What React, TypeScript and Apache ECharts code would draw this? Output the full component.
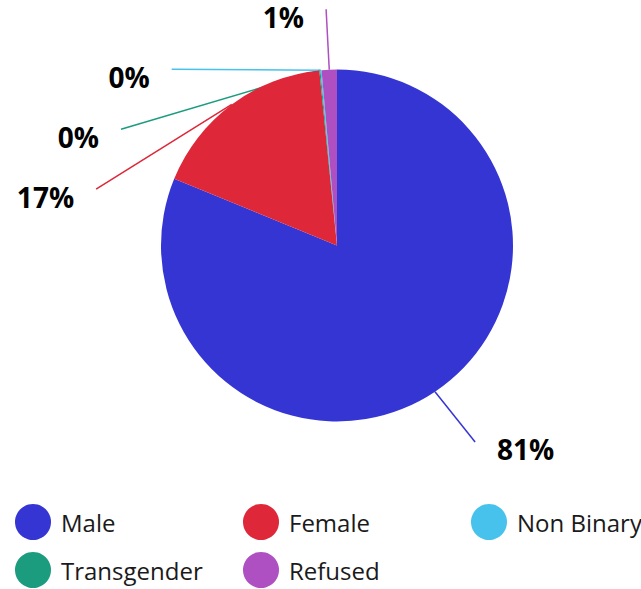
import React, { useEffect, useRef } from "react";
import * as echarts from "echarts";

const categories = ["Male", "Female", "Transgender", "Non Binary", "Refused"];
const values = [81.2, 17.2, 0.1, 0.1, 1.4];
const legendOrder = ["Male", "Female", "Non Binary", "Transgender", "Refused"];
const colorByName: Record<string, string> = {
  Male: "#3535d4",
  Female: "#de2739",
  "Non Binary": "#47c2ec",
  Transgender: "#1c9c7e",
  Refused: "#ae4fc2",
};

// layout constants
const CX = 337;
const CY = 245.5;
const R = 176;
const RA = 248; // horizontal radius of label ellipse
const RB = 236.5; // vertical radius of label ellipse
const LABEL_GAP = 60;
const LABEL_DIST = 22;
const LABEL_DY = 7.5;

function computeLabelAnchors() {
  const total = values.reduce((a, b) => a + b, 0);
  let acc = 0;
  const mids = values.map((v) => {
    const m = ((acc + v / 2) / total) * 2 * Math.PI;
    acc += v;
    return m;
  });
  const items = mids.map((m, i) => ({
    i,
    m,
    side: Math.sin(m) < 0 ? -1 : 1,
    y: CY - RB * Math.cos(m),
    x: 0,
  }));
  [-1, 1].forEach((side) => {
    const list = items.filter((it) => it.side === side).sort((a, b) => a.y - b.y);
    let prev = -Infinity;
    list.forEach((it) => {
      it.y = Math.max(it.y, prev + LABEL_GAP);
      prev = it.y;
    });
  });
  items.forEach((it) => {
    const t = (it.y - CY) / RB;
    it.x = CX + it.side * RA * Math.sqrt(Math.max(0, 1 - t * t));
  });
  return items;
}

export default function App() {
  const ref = useRef<HTMLDivElement>(null);
  useEffect(() => {
    document.body.style.margin = "0";
    const chart = echarts.init(ref.current!, undefined, { renderer: "svg" });
    const anchors = computeLabelAnchors();
    const legends = [0, 1, 2].map((col) => ({
      data: legendOrder.filter((_, k) => k % 3 === col),
      orient: "vertical",
      left: 15 + 228 * col,
      top: 504,
      padding: 0,
      itemWidth: 36,
      itemHeight: 36,
      itemGap: 12,
      icon: "circle",
      textStyle: {
        fontFamily: "Open Sans",
        fontSize: 24,
        color: "#1a1a1a",
        padding: [0, 0, 0, 5],
      },
    }));
    chart.setOption({
      animation: false,
      legend: legends,
      series: [
        {
          type: "pie",
          center: [CX, CY],
          radius: R,
          startAngle: 90,
          clockwise: true,
          avoidLabelOverlap: false,
          data: categories.map((c, i) => ({
            name: c,
            value: values[i],
            itemStyle: { color: colorByName[c] },
            labelLine: { lineStyle: { color: colorByName[c] } },
          })),
          label: {
            show: true,
            formatter: (p: any) => Math.round(p.percent) + "%",
            fontFamily: "Open Sans",
            fontSize: 28,
            lineHeight: 28,
            fontWeight: "bold",
            color: "#000",
          },
          labelLine: {
            show: true,
            length: RA - R,
            length2: 0,
            lineStyle: { width: 1.5 },
          },
          labelLayout: (p: any) => {
            const a = anchors[p.dataIndex];
            const sx = CX + R * Math.sin(a.m);
            const sy = CY - R * Math.cos(a.m);
            return {
              x: a.x + a.side * LABEL_DIST,
              y: a.y + LABEL_DY,
              align: a.side < 0 ? "right" : "left",
              verticalAlign: "middle",
              labelLinePoints: [
                [sx, sy],
                [a.x, a.y],
                [a.x, a.y],
              ],
            };
          },
          emphasis: { disabled: true },
        },
      ],
    });
    return () => chart.dispose();
  }, []);
  return <div ref={ref} style={{ width: 641, height: 589 }} />;
}
